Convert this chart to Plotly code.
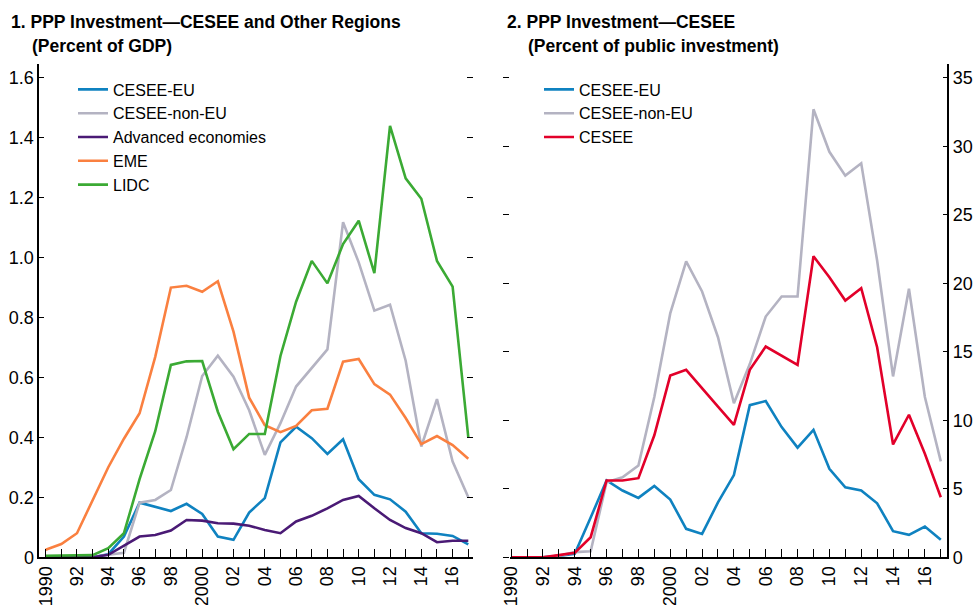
import plotly.graph_objects as go

years = list(range(1990, 2018))
tick_text = ["1990" if y == 1990 else ("2000" if y == 2000 else (f"{y % 100:02d}" if y % 2 == 0 else "")) for y in years]

# Panel 1: percent of GDP
cesee_eu_gdp = [0.0, 0.0, 0.0, 0.0, 0.01, 0.069, 0.182, 0.167, 0.154, 0.178, 0.144, 0.069, 0.058, 0.149,
                0.197, 0.383, 0.435, 0.397, 0.344, 0.393, 0.26, 0.208, 0.193, 0.152, 0.08, 0.078, 0.071, 0.043]
cesee_non_eu_gdp = [0.0, 0.0, 0.0, 0.0, 0.008, 0.015, 0.182, 0.191, 0.224, 0.40, 0.604, 0.672, 0.602, 0.49,
                    0.341, 0.447, 0.569, 0.63, 0.693, 1.117, 0.983, 0.822, 0.842, 0.655, 0.369, 0.527, 0.319, 0.20]
advanced_gdp = [0.0, 0.0, 0.0, 0.0, 0.008, 0.039, 0.069, 0.074, 0.089, 0.124, 0.122, 0.113, 0.112, 0.105,
                0.091, 0.08, 0.119, 0.138, 0.163, 0.191, 0.204, 0.163, 0.124, 0.097, 0.08, 0.05, 0.055, 0.055]
eme_gdp = [0.025, 0.044, 0.08, 0.19, 0.30, 0.395, 0.48, 0.668, 0.899, 0.905, 0.885, 0.92, 0.752, 0.532,
           0.44, 0.417, 0.438, 0.49, 0.495, 0.652, 0.661, 0.577, 0.542, 0.464, 0.377, 0.404, 0.374, 0.328]
lidc_gdp = [0.005, 0.005, 0.005, 0.007, 0.03, 0.08, 0.26, 0.42, 0.641, 0.653, 0.654, 0.485, 0.36, 0.411,
            0.411, 0.671, 0.852, 0.988, 0.913, 1.044, 1.122, 0.947, 1.438, 1.263, 1.195, 0.988, 0.902, 0.40]

# Panel 2: percent of public investment
cesee_eu_pi = [0.0, 0.0, 0.0, 0.1, 0.25, 2.9, 5.6, 4.87, 4.33, 5.2, 4.21, 2.07, 1.7, 4.0,
               6.0, 11.1, 11.4, 9.5, 8.0, 9.3, 6.45, 5.1, 4.87, 3.94, 1.9, 1.63, 2.24, 1.27]
cesee_non_eu_pi = [0.0, 0.0, 0.0, 0.1, 0.37, 0.44, 5.47, 5.84, 6.7, 11.7, 17.8, 21.6, 19.4, 16.06,
                   11.24, 14.1, 17.57, 19.03, 19.03, 32.7, 29.6, 27.86, 28.76, 21.66, 13.2, 19.6, 11.7, 7.0]
cesee_pi = [0.0, 0.0, 0.0, 0.15, 0.32, 1.46, 5.6, 5.6, 5.77, 8.9, 13.26, 13.68, 12.3, 11.0,
            9.66, 13.68, 15.38, 14.7, 14.04, 21.97, 20.44, 18.74, 19.64, 15.33, 8.23, 10.4, 7.55, 4.38]

left_ticks = [0, 0.2, 0.4, 0.6, 0.8, 1.0, 1.2, 1.4, 1.6]
left_tick_text = ["0", "0.2", "0.4", "0.6", "0.8", "1.0", "1.2", "1.4", "1.6"]
right_ticks = [0, 5, 10, 15, 20, 25, 30, 35]

BLUE = "#0F82C0"
GRAY = "#B4B3C2"
PURPLE = "#4A1A75"
ORANGE = "#FA8040"
GREEN = "#3BAA34"
RED = "#E2002A"

FONT = "Liberation Sans, Arial, sans-serif"
LW = 2.6

fig = go.Figure()

def add(x, y, name, color, xa, ya, legend):
    fig.add_trace(go.Scatter(x=x, y=y, name=name, mode="lines",
                             line=dict(color=color, width=LW),
                             xaxis=xa, yaxis=ya, legend=legend))

add(years, cesee_eu_gdp, "CESEE-EU", BLUE, "x", "y", "legend")
add(years, cesee_non_eu_gdp, "CESEE-non-EU", GRAY, "x", "y", "legend")
add(years, advanced_gdp, "Advanced economies", PURPLE, "x", "y", "legend")
add(years, eme_gdp, "EME", ORANGE, "x", "y", "legend")
add(years, lidc_gdp, "LIDC", GREEN, "x", "y", "legend")

add(years, cesee_eu_pi, "CESEE-EU", BLUE, "x2", "y2", "legend2")
add(years, cesee_non_eu_pi, "CESEE-non-EU", GRAY, "x2", "y2", "legend2")
add(years, cesee_pi, "CESEE", RED, "x2", "y2", "legend2")

# empty traces to materialise mirror-tick axes
fig.add_trace(go.Scatter(x=[None], y=[None], xaxis="x", yaxis="y3", showlegend=False, hoverinfo="skip"))
fig.add_trace(go.Scatter(x=[None], y=[None], xaxis="x2", yaxis="y4", showlegend=False, hoverinfo="skip"))

tickfont = dict(family=FONT, size=18, color="black")
ydom = [0.079, 0.894]

xcommon = dict(tickvals=years, ticktext=tick_text, tickangle=-90, ticks="inside", ticklen=8,
               tickcolor="black", tickwidth=1, showline=True, linecolor="black", linewidth=1.5,
               showgrid=False, zeroline=False, tickfont=tickfont, automargin=False)

fig.update_layout(
    width=974, height=605,
    margin=dict(l=0, r=0, t=0, b=0, autoexpand=False),
    paper_bgcolor="white", plot_bgcolor="white",
    showlegend=True,
    xaxis=dict(domain=[0.0403, 0.4856], range=[1989.59, 2017.3], anchor="y", **xcommon),
    yaxis=dict(domain=ydom, range=[0, 1.644], anchor="x", tickvals=left_ticks, ticktext=left_tick_text,
               ticks="inside", ticklen=5, tickcolor="black", showline=True, linecolor="black",
               linewidth=1.5, showgrid=False, zeroline=False, tickfont=tickfont, automargin=False),
    yaxis3=dict(overlaying="y", side="right", anchor="x", range=[0, 1.644], tickvals=left_ticks,
                ticks="inside", ticklen=6, tickcolor="black", showline=False, showticklabels=False,
                showgrid=False, zeroline=False, automargin=False),
    xaxis2=dict(domain=[0.5236, 0.9726], range=[1989.93, 2017.41], anchor="y2", **xcommon),
    yaxis2=dict(domain=ydom, range=[0, 36.0], anchor="x2", side="right", tickvals=right_ticks,
                ticks="inside", ticklen=5, tickcolor="black", showline=True, linecolor="black",
                linewidth=1.5, showgrid=False, zeroline=False, tickfont=tickfont, automargin=False),
    yaxis4=dict(overlaying="y2", side="left", anchor="x2", range=[0, 36.0], tickvals=right_ticks,
                ticks="outside", ticklen=6, tickcolor="black", showline=False, showticklabels=False,
                showgrid=False, zeroline=False, automargin=False),
    legend=dict(x=73 / 974, y=1 - 72.5 / 605, xanchor="left", yanchor="top",
                font=dict(family=FONT, size=16, color="black"), bgcolor="rgba(0,0,0,0)",
                tracegroupgap=0),
    legend2=dict(x=539 / 974, y=1 - 72.5 / 605, xanchor="left", yanchor="top",
                 font=dict(family=FONT, size=16, color="black"), bgcolor="rgba(0,0,0,0)",
                 tracegroupgap=0),
)

title_font = dict(family=FONT, size=17.5, color="black")
annots = [
    ("<b>1. PPP Investment\u2014CESEE and Other Regions</b>", 9, 22),
    ("<b>(Percent of GDP)</b>", 30, 46),
    ("<b>2. PPP Investment\u2014CESEE</b>", 505, 22),
    ("<b>(Percent of public investment)</b>", 526, 46),
]
for text, xp, yp in annots:
    fig.add_annotation(text=text, xref="paper", yref="paper", x=xp / 974, y=1 - yp / 605,
                       xanchor="left", yanchor="middle", showarrow=False, font=title_font)

fig.write_html("out.html", config={"displayModeBar": False},
               post_script="document.body.style.margin='0px';document.body.style.overflow='hidden';")
